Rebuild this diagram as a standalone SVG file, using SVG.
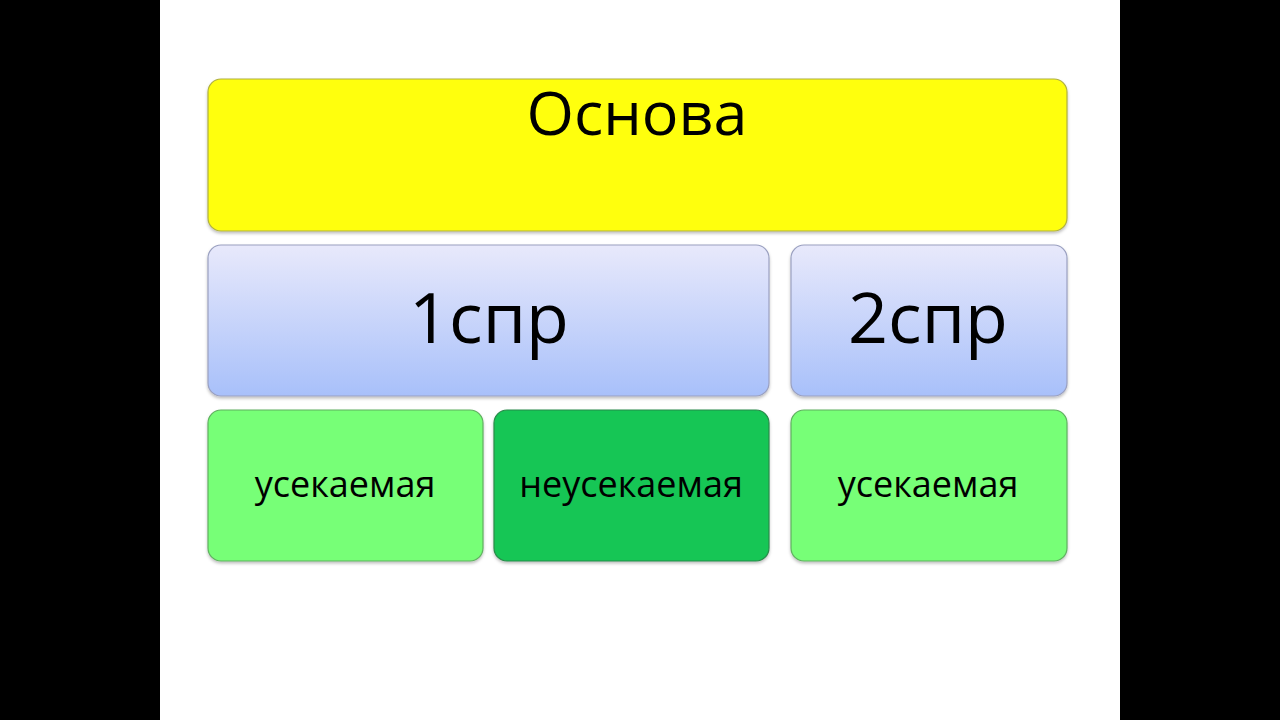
<svg xmlns="http://www.w3.org/2000/svg" width="1280" height="720" viewBox="0 0 1280 720">
<defs>
<linearGradient id="blueGrad" x1="0" y1="0" x2="0" y2="1">
<stop offset="0" stop-color="#e8e9fb"/>
<stop offset="1" stop-color="#a8c0fa"/>
</linearGradient>
<filter id="sh" x="-5%" y="-5%" width="110%" height="115%">
<feDropShadow dx="0" dy="2" stdDeviation="1.5" flood-color="#000" flood-opacity="0.25"/>
</filter>
<style>
.box{filter:url(#sh);stroke-width:1.2}
.t{font-family:"Open Sans","Noto Sans","DejaVu Sans",sans-serif;fill:#000;text-anchor:middle}
.big{font-size:61px}
.mid{font-size:70px}
.sm{font-size:36px}
</style>
</defs>
<rect x="0" y="0" width="1280" height="720" fill="#000"/>
<rect x="160" y="0" width="960" height="720" fill="#fff"/>
<g id="osnova">
<rect class="box" x="208" y="79" width="859" height="152" rx="13" fill="#ffff10" stroke="#b0b040"/>
<text class="t big" x="637" y="135">Основа</text>
</g>
<g id="spr1">
<rect class="box" x="208" y="245" width="561" height="151" rx="13" fill="url(#blueGrad)" stroke="#9aa0c0"/>
<text class="t mid" x="489" y="343">1спр</text>
</g>
<g id="spr2">
<rect class="box" x="791" y="245" width="276" height="151" rx="13" fill="url(#blueGrad)" stroke="#9aa0c0"/>
<text class="t mid" x="928" y="343">2спр</text>
</g>
<g id="usek1">
<rect class="box" x="208" y="410" width="275" height="151" rx="13" fill="#77ff77" stroke="#60b060"/>
<text class="t sm" x="345" y="497">усекаемая</text>
</g>
<g id="neusek">
<rect class="box" x="494" y="410" width="275" height="151" rx="13" fill="#14c655" stroke="#2a8a4a"/>
<text class="t sm" x="631" y="497">неусекаемая</text>
</g>
<g id="usek2">
<rect class="box" x="791" y="410" width="276" height="151" rx="13" fill="#77ff77" stroke="#60b060"/>
<text class="t sm" x="928" y="497">усекаемая</text>
</g>
<g id="connectors"></g>
</svg>
